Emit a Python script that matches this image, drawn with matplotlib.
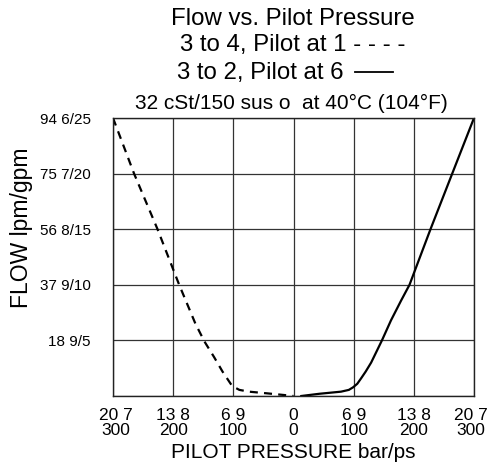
import matplotlib
matplotlib.use("Agg")
import matplotlib.pyplot as plt
from matplotlib.lines import Line2D
from matplotlib.transforms import ScaledTranslation

plt.rcParams['font.family'] = ['Liberation Sans', 'DejaVu Sans']

# Data (x: pilot pressure in psi, negative = left side; y: flow in gpm)
dash_x = [-300, -265, -226, -190, -163, -148, -132, -118, -102, -90, -74, -44, -16, 0]
dash_y = [25, 20, 15, 10, 6.5, 4.9, 3.5, 2.2, 0.9, 0.55, 0.39, 0.24, 0.09, 0]
solid_x = [13, 43, 79, 92, 99, 106, 112.5, 120, 129, 147, 162, 179, 192.8, 227.7, 263.8, 300]
solid_y = [0, 0.2, 0.39, 0.55, 0.78, 1.1, 1.6, 2.2, 3.0, 5, 6.8, 8.6, 10, 15, 20, 25]

x_ticks = [-300, -200, -100, 0, 100, 200, 300]
x_tick_labels = ["20 7\n300", "13 8\n200", "6 9\n100", "0\n0", "6 9\n100", "13 8\n200", "20 7\n300"]
y_ticks = [0, 5, 10, 15, 20, 25]
y_tick_labels = ["", "18 9/5", "37 9/10", "56 8/15", "75 7/20", "94 6/25"]

W, H = 488, 466
fig = plt.figure(figsize=(W / 100, H / 100), dpi=100)
ax = fig.add_axes([113 / W, 1 - 396 / H, (474 - 113) / W, (396 - 118) / H])

ax.plot(dash_x, dash_y, color='black', lw=1.6, dashes=(3.6, 2.8))
ax.plot(solid_x, solid_y, color='black', lw=1.6)

ax.set_xlim(-300, 300)
ax.set_ylim(0, 25)
ax.set_xticks(x_ticks)
ax.set_xticklabels(x_tick_labels, fontsize=12.5, linespacing=0.95)
ax.set_yticks(y_ticks)
ax.set_yticklabels(y_tick_labels, fontsize=11)
ax.tick_params(axis='both', length=0)
ax.tick_params(axis='x', pad=9)
ax.tick_params(axis='y', pad=16)
ax.grid(True, color='#333333', lw=0.9)
for s in ax.spines.values():
    s.set_color('#222222')
    s.set_linewidth(1.0)

xl = ax.get_xticklabels()
xl[0].set_transform(xl[0].get_transform() + ScaledTranslation(2.5 / 100, 0, fig.dpi_scale_trans))
xl[-1].set_transform(xl[-1].get_transform() + ScaledTranslation(-3.5 / 100, 0, fig.dpi_scale_trans))

ax.set_xlabel("PILOT PRESSURE bar/ps", fontsize=15, labelpad=4)
fig.text(22 / W, 1 - 228 / H, "FLOW lpm/gpm", rotation=90, fontsize=16.5,
         ha='center', va='center')

cx = 293 / W
fig.text(cx, 1 - 19 / H, "Flow vs. Pilot Pressure", fontsize=17.3, ha='center', va='center')
fig.text(cx, 1 - 45 / H, "3 to 4, Pilot at 1 - - - -", fontsize=17.3, ha='center', va='center')
fig.text(177 / W, 1 - 73 / H, "3 to 2, Pilot at 6", fontsize=17.3, ha='left', va='center')
fig.add_artist(Line2D([355 / W, 393 / W], [1 - 72 / H, 1 - 72 / H], color='black', lw=1.3,
                      transform=fig.transFigure))
fig.text(291 / W, 1 - 103 / H, "32 cSt/150 sus o  at 40°C (104°F)", fontsize=15,
         ha='center', va='center')

fig.savefig("out.png", dpi=100)
